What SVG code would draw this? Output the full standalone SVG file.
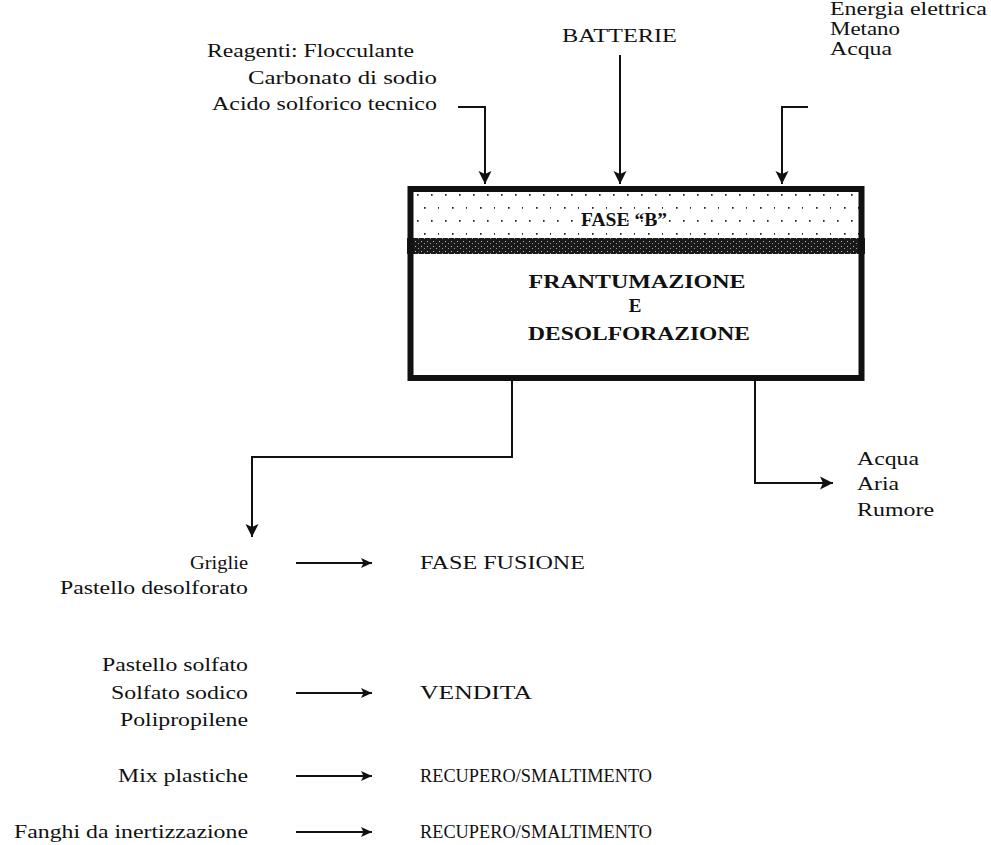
<svg xmlns="http://www.w3.org/2000/svg" width="991" height="845" viewBox="0 0 991 845">
<defs>
<style>
text{font-family:"Liberation Serif","Times New Roman",serif;font-size:19px;fill:#111}
.b{font-weight:bold}
.m{text-anchor:middle}
.e{text-anchor:end}
.s{font-size:18px}
.ln{fill:none;stroke:#111;stroke-width:2}
</style>
<marker id="ah" markerUnits="userSpaceOnUse" markerWidth="16" markerHeight="16" viewBox="-1 -8 16 16" refX="13" refY="0" orient="auto">
<path d="M0,-6.5 L13,0 L0,6.5 L3,0 z" fill="#111"/>
</marker>
<marker id="as" markerUnits="userSpaceOnUse" markerWidth="14" markerHeight="14" viewBox="-1 -7 14 14" refX="11" refY="0" orient="auto">
<path d="M0,-5 L11,0 L0,5 L2.5,0 z" fill="#111"/>
</marker>
<pattern id="dots" patternUnits="userSpaceOnUse" x="411" y="190" width="28" height="26">
<rect x="6" y="4" width="1.6" height="1.8" fill="#222"/>
<rect x="20" y="4" width="1.6" height="1.8" fill="#222"/>
<rect x="13" y="17" width="1.6" height="1.8" fill="#222"/>
<rect x="27" y="17" width="1.6" height="1.8" fill="#222"/>
</pattern>
<pattern id="dark" patternUnits="userSpaceOnUse" width="6" height="5">
<rect width="6" height="5" fill="#1a1a1a"/>
<rect x="1" y="1" width="1" height="1" fill="#bbb"/>
<rect x="4" y="3" width="1" height="1" fill="#999"/>
</pattern>
</defs>
<rect width="991" height="845" fill="#fff"/>

<g id="inputs-text">
<text x="207" y="57" textLength="207" lengthAdjust="spacingAndGlyphs">Reagenti: Flocculante</text>
<text x="248" y="84" textLength="189" lengthAdjust="spacingAndGlyphs">Carbonato di sodio</text>
<text x="212" y="110" textLength="225" lengthAdjust="spacingAndGlyphs">Acido solforico tecnico</text>
</g>
<g id="batterie">
<text x="562" y="42" textLength="115" lengthAdjust="spacingAndGlyphs">BATTERIE</text>
</g>
<g id="energia">
<text class="s" x="830" y="15" textLength="157" lengthAdjust="spacingAndGlyphs">Energia elettrica</text>
<text class="s" x="830" y="35" textLength="70" lengthAdjust="spacingAndGlyphs">Metano</text>
<text class="s" x="830" y="55" textLength="62" lengthAdjust="spacingAndGlyphs">Acqua</text>
</g>

<g id="fase-b">
<rect x="410" y="189" width="452" height="50" fill="url(#dots)"/>
<rect x="407" y="238" width="458" height="16" fill="url(#dark)"/>
<text class="b m" x="624" y="226" textLength="86" lengthAdjust="spacingAndGlyphs">FASE “B”</text>
</g>
<g id="frantumazione">
<rect x="410.5" y="189" width="451" height="189" fill="none" stroke="#111" stroke-width="6"/>
<text class="b m" x="637" y="288" textLength="217" lengthAdjust="spacingAndGlyphs">FRANTUMAZIONE</text>
<text class="b m" x="635" y="312">E</text>
<text class="b m" x="639" y="340" textLength="222" lengthAdjust="spacingAndGlyphs">DESOLFORAZIONE</text>
</g>

<g id="emissioni">
<text x="857" y="465" textLength="62" lengthAdjust="spacingAndGlyphs">Acqua</text>
<text x="857" y="490" textLength="42" lengthAdjust="spacingAndGlyphs">Aria</text>
<text x="857" y="516" textLength="77" lengthAdjust="spacingAndGlyphs">Rumore</text>
</g>

<g id="griglie">
<text class="e" x="248" y="569" textLength="58" lengthAdjust="spacingAndGlyphs">Griglie</text>
<text class="e" x="248" y="594" textLength="188" lengthAdjust="spacingAndGlyphs">Pastello desolforato</text>
</g>
<g id="fase-fusione"><text x="420" y="569" textLength="165" lengthAdjust="spacingAndGlyphs">FASE FUSIONE</text></g>

<g id="vendita-in">
<text class="e" x="248" y="671" textLength="146" lengthAdjust="spacingAndGlyphs">Pastello solfato</text>
<text class="e" x="248" y="699" textLength="137" lengthAdjust="spacingAndGlyphs">Solfato sodico</text>
<text class="e" x="248" y="726" textLength="128" lengthAdjust="spacingAndGlyphs">Polipropilene</text>
</g>
<g id="vendita"><text x="420" y="699" textLength="112" lengthAdjust="spacingAndGlyphs">VENDITA</text></g>

<g id="mix"><text class="e" x="248" y="782" textLength="130" lengthAdjust="spacingAndGlyphs">Mix plastiche</text></g>
<g id="recupero1"><text x="420" y="782" textLength="232" lengthAdjust="spacingAndGlyphs">RECUPERO/SMALTIMENTO</text></g>

<g id="fanghi"><text class="e" x="248" y="838" textLength="234" lengthAdjust="spacingAndGlyphs">Fanghi da inertizzazione</text></g>
<g id="recupero2"><text x="420" y="838" textLength="232" lengthAdjust="spacingAndGlyphs">RECUPERO/SMALTIMENTO</text></g>

<g id="connectors">
<path class="ln" d="M458,107 H485 V184" marker-end="url(#ah)"/>
<path class="ln" d="M620,55 V184" marker-end="url(#ah)"/>
<path class="ln" d="M808,107 H782 V184" marker-end="url(#ah)"/>
<path class="ln" d="M512,381 V457 H252 V537" marker-end="url(#ah)"/>
<path class="ln" d="M755,381 V483 H833" marker-end="url(#ah)"/>
<path class="ln" d="M296,563 H372" marker-end="url(#as)"/>
<path class="ln" d="M296,693 H372" marker-end="url(#as)"/>
<path class="ln" d="M296,776 H372" marker-end="url(#as)"/>
<path class="ln" d="M296,832 H372" marker-end="url(#as)"/>
</g>
</svg>
